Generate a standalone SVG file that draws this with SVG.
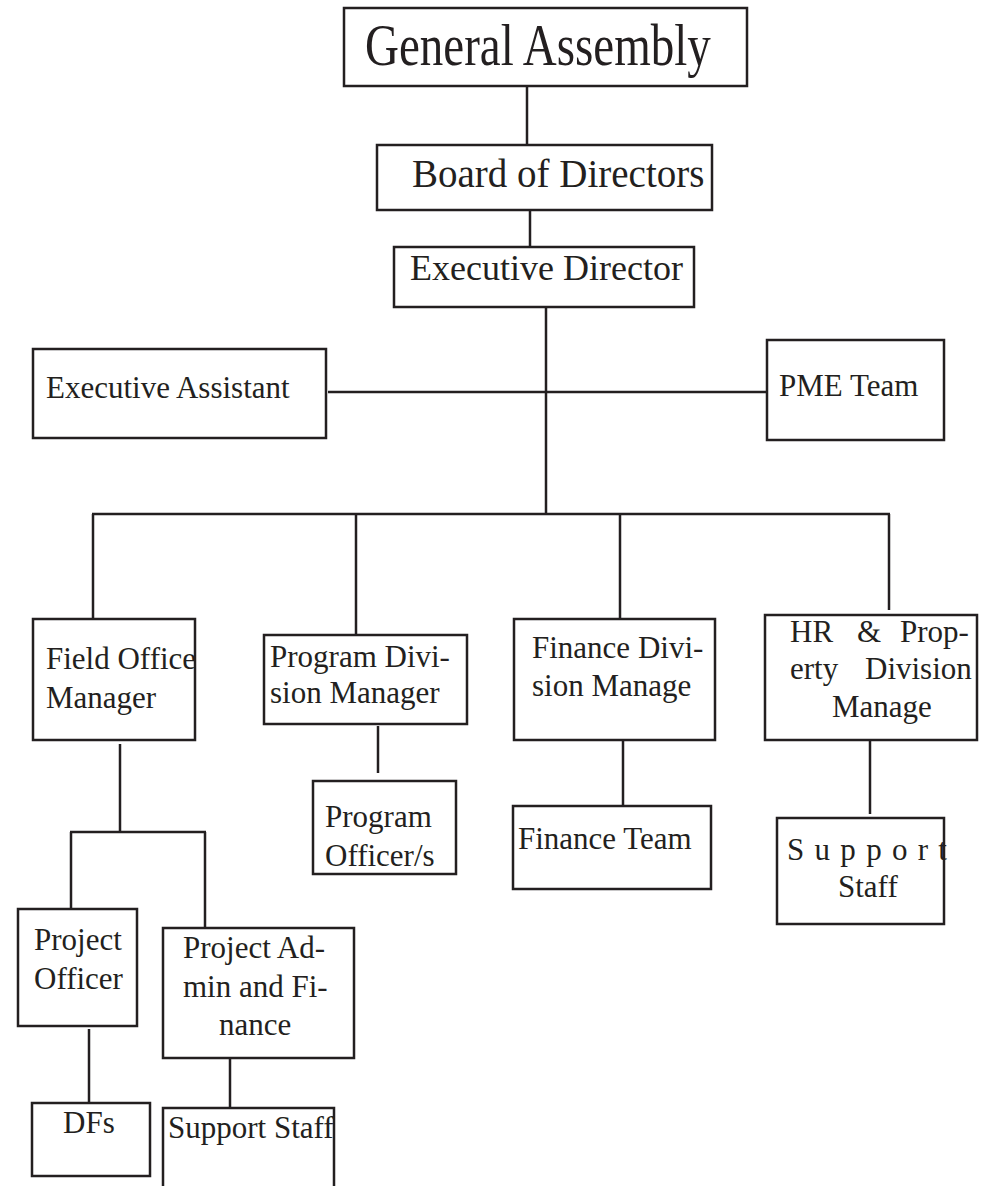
<svg xmlns="http://www.w3.org/2000/svg" width="985" height="1186" viewBox="0 0 985 1186">
<style>
.box{fill:#fff;stroke:#231f20;stroke-width:2.5}
.ln{fill:none;stroke:#231f20;stroke-width:2.5}
text{font-family:"Liberation Serif","Times New Roman",serif;fill:#231f20;font-size:31px}
text.t47{font-size:47px}
text.t39{font-size:39px}
text.t36{font-size:36px}
</style>
<rect width="985" height="1186" fill="#fff"/>
<g id="connectors">
<line class="ln" x1="527" y1="86" x2="527" y2="145"/>
<line class="ln" x1="530" y1="210" x2="530" y2="247"/>
<line class="ln" x1="546" y1="302" x2="546" y2="515"/>
<line class="ln" x1="328" y1="392" x2="767" y2="392"/>
<line class="ln" x1="92" y1="514" x2="890" y2="514"/>
<line class="ln" x1="93" y1="514" x2="93" y2="619"/>
<line class="ln" x1="356" y1="514" x2="356" y2="635"/>
<line class="ln" x1="620" y1="514" x2="620" y2="619"/>
<line class="ln" x1="889" y1="514" x2="889" y2="610"/>
<line class="ln" x1="120" y1="744" x2="120" y2="832"/>
<line class="ln" x1="70" y1="832" x2="206" y2="832"/>
<line class="ln" x1="71" y1="832" x2="71" y2="909"/>
<line class="ln" x1="205" y1="832" x2="205" y2="928"/>
<line class="ln" x1="378" y1="726" x2="378" y2="773"/>
<line class="ln" x1="623" y1="740" x2="623" y2="806"/>
<line class="ln" x1="870" y1="740" x2="870" y2="814"/>
<line class="ln" x1="89" y1="1029" x2="89" y2="1103"/>
<line class="ln" x1="230" y1="1058" x2="230" y2="1108"/>
</g>
<g id="general-assembly">
<rect class="box" x="344" y="8" width="403" height="78"/>
<text class="t47" transform="translate(365,65) scale(1,1.25)">General Assembly</text>
</g>
<g id="board-of-directors">
<rect class="box" x="377" y="145" width="335" height="65"/>
<text class="t39" x="412" y="187">Board of Directors</text>
</g>
<g id="executive-director">
<rect class="box" x="394" y="247" width="300" height="60"/>
<text class="t36" x="410" y="280">Executive Director</text>
</g>
<g id="executive-assistant">
<rect class="box" x="33" y="349" width="293" height="89"/>
<text x="46" y="398">Executive Assistant</text>
</g>
<g id="pme-team">
<rect class="box" x="767" y="340" width="177" height="100"/>
<text x="779" y="396">PME Team</text>
</g>
<g id="field-office-manager">
<rect class="box" x="33" y="619" width="162" height="121"/>
<text x="46" y="669">Field Office</text>
<text x="46" y="708">Manager</text>
</g>
<g id="program-division-manager">
<rect class="box" x="264" y="635" width="203" height="89"/>
<text x="270" y="667">Program Divi-</text>
<text x="270" y="703">sion Manager</text>
</g>
<g id="finance-division-manage">
<rect class="box" x="514" y="619" width="201" height="121"/>
<text x="532" y="658">Finance Divi-</text>
<text x="532" y="696">sion Manage</text>
</g>
<g id="hr-property-division-manage">
<rect class="box" x="765" y="615" width="212" height="125"/>
<text x="790" y="642">HR</text>
<text x="857" y="642">&amp;</text>
<text x="900" y="642">Prop-</text>
<text x="790" y="679">erty</text>
<text x="865" y="679">Division</text>
<text x="832" y="717">Manage</text>
</g>
<g id="program-officers">
<rect class="box" x="313" y="781" width="143" height="93"/>
<text x="325" y="827">Program</text>
<text x="325" y="866">Officer/s</text>
</g>
<g id="finance-team">
<rect class="box" x="513" y="806" width="198" height="83"/>
<text x="518" y="849">Finance Team</text>
</g>
<g id="support-staff-hr">
<rect class="box" x="777" y="818" width="167" height="106"/>
<text x="787" y="860" letter-spacing="10.3">Support</text>
<text x="838" y="897">Staff</text>
</g>
<g id="project-officer">
<rect class="box" x="18" y="909" width="119" height="117"/>
<text x="34" y="950">Project</text>
<text x="34" y="989">Officer</text>
</g>
<g id="project-admin-finance">
<rect class="box" x="163" y="928" width="191" height="130"/>
<text x="183" y="958">Project Ad-</text>
<text x="183" y="997">min and Fi-</text>
<text x="219" y="1035">nance</text>
</g>
<g id="dfs">
<rect class="box" x="32" y="1103" width="118" height="73"/>
<text x="63" y="1133">DFs</text>
</g>
<g id="support-staff-field">
<path class="ln" d="M163,1187 V1108 H334 V1187"/>
<text x="168" y="1138">Support Staff</text>
</g>
</svg>
